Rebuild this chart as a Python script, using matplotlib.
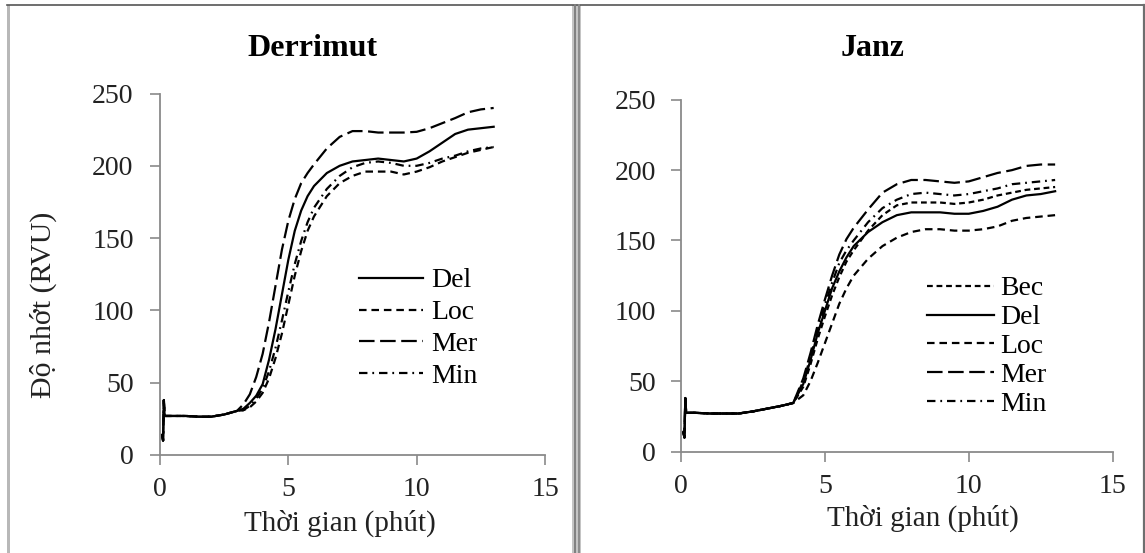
import matplotlib

matplotlib.use("Agg")
import matplotlib.pyplot as plt  # noqa: E402
from matplotlib.lines import Line2D  # noqa: E402
from matplotlib.patches import Rectangle  # noqa: E402

plt.rcParams["font.family"] = ["Liberation Serif", "DejaVu Serif"]

W, H = 1145, 553

# ---- data ----
start_t = [0.08, 0.12, 0.15, 0.18, 0.5, 1, 1.5, 2, 2.5, 3]
t_grid = start_t + [3.25, 3.5, 3.75, 4, 4.25, 4.5, 4.75, 5, 5.25, 5.5, 5.75, 6,
                    6.5, 7, 7.5, 8, 8.5, 9, 9.5, 10, 10.5, 11, 11.5, 12, 12.5, 13]

d_start = [14, 10, 38, 27, 27, 27, 26.5, 26.5, 28, 30.5]
derrimut_del = d_start + [32, 36, 41, 49, 66, 87, 111, 135, 155, 169, 179, 186,
                          195, 200, 203, 204, 205, 204, 203, 205, 210, 216, 222, 225, 226, 227]
derrimut_loc = d_start + [31, 33, 37, 43, 53, 67, 84, 104, 124, 141, 155, 165,
                          179, 188, 193, 196, 196, 196, 194, 196, 199, 203, 206, 209, 211, 213]
derrimut_mer = d_start + [35, 42, 54, 70, 92, 117, 142, 162, 177, 188, 195, 201,
                          212, 220, 224, 224, 223, 223, 223, 223.5, 226, 229.5, 233, 237, 239, 240]
derrimut_min = d_start + [31, 34, 39, 46, 58, 74, 93, 113, 132, 148, 161, 171,
                          184, 193, 199, 202, 203, 202, 200, 200, 202, 205, 207, 210, 212, 213]

t_janz = [0.08, 0.12, 0.15, 0.18, 0.5, 1, 1.5, 2, 2.5, 3, 3.5, 3.9,
          4.25, 4.5, 4.75, 5, 5.25, 5.5, 5.75, 6, 6.5, 7, 7.5, 8, 8.5, 9,
          9.5, 10, 10.5, 11, 11.5, 12, 12.5, 13]
j_start = [14, 10, 38, 27.5, 27.5, 27, 27, 27, 28.5, 30.5, 32.5, 34.5]
janz_bec = j_start + [46, 62, 80, 96, 111, 124, 135, 143, 157, 168, 175, 177, 177, 177,
                      176, 177, 179, 182, 184, 186, 187, 188]
janz_del = j_start + [48, 65, 84, 100, 116, 128, 138, 146, 156, 163, 168, 170, 170, 170,
                      169, 169, 171, 174, 179, 182, 183, 185]
janz_loc = j_start + [40, 50, 63, 77, 91, 105, 116, 125, 137, 146, 152, 156, 158, 158,
                      157, 157, 158, 160, 164, 166, 167, 168]
janz_mer = j_start + [52, 70, 90, 108, 125, 140, 151, 159, 172, 184, 190, 193, 193, 192,
                      191, 192, 195, 198, 200, 203, 204, 204]
janz_min = j_start + [50, 67, 86, 104, 120, 134, 143, 150, 163, 173, 179, 183, 184, 183,
                      182, 183, 185, 187, 190, 191, 192, 193]

styles = {
    "Bec": (0, (2.6, 1.7)),
    "Del": "-",
    "Loc": (0, (3.4, 2.2)),
    "Mer": (0, (7, 2.5)),
    "Min": (0, (3.8, 2.2, 0.8, 2.2)),
}

x_ticks = [0, 5, 10, 15]
y_ticks = [0, 50, 100, 150, 200, 250]
x_label = "Thời gian (phút)"
y_label = "Độ nhớt (RVU)"

AXIS_GREY = "#8a8a8a"


def fx(px):
    return px / W


def fy(py):
    return 1 - py / H


def style_axes(ax, pad_y):
    for side in ("top", "right"):
        ax.spines[side].set_visible(False)
    for side in ("left", "bottom"):
        ax.spines[side].set_color(AXIS_GREY)
        ax.spines[side].set_linewidth(1.3)
    ax.set_xlim(0, 15)
    ax.set_ylim(0, 250)
    ax.set_xticks(x_ticks)
    ax.set_yticks(y_ticks)
    ax.tick_params(axis="both", direction="out", length=7, width=1.2,
                   color=AXIS_GREY, labelsize=20, labelcolor="#222222")
    ax.tick_params(axis="y", pad=pad_y)
    ax.tick_params(axis="x", pad=9)


def draw_series(ax, t, series):
    for name, vals in series:
        ax.plot(t, vals, color="black", lw=1.6, linestyle=styles[name], label=name)


fig = plt.figure(figsize=(W / 100, H / 100), dpi=100)

# left panel
ax1 = fig.add_axes([fx(160), fy(455), fx(545) - fx(160), fy(93.5) - fy(455)])
draw_series(ax1, t_grid, [("Del", derrimut_del), ("Loc", derrimut_loc),
                          ("Mer", derrimut_mer), ("Min", derrimut_min)])
style_axes(ax1, 12)
ax1.legend(loc="upper left", bbox_to_anchor=(fx(359), fy(268)), bbox_transform=fig.transFigure,
           frameon=False, fontsize=20, handlelength=2.3, handletextpad=0.3,
           labelspacing=0.23, borderaxespad=0, borderpad=0)

# right panel
ax2 = fig.add_axes([fx(681), fy(451.5), fx(1112.7) - fx(681), fy(99.8) - fy(451.5)])
draw_series(ax2, t_janz, [("Bec", janz_bec), ("Del", janz_del), ("Loc", janz_loc),
                          ("Mer", janz_mer), ("Min", janz_min)])
style_axes(ax2, 11)
ax2.legend(loc="upper left", bbox_to_anchor=(fx(927), fy(276)), bbox_transform=fig.transFigure,
           frameon=False, fontsize=20, handlelength=2.4, handletextpad=0.25,
           labelspacing=0.12, borderaxespad=0, borderpad=0)

# titles and axis labels
fig.text(fx(313), fy(56.5), "Derrimut", ha="center", va="baseline",
         fontsize=23, fontweight="bold")
fig.text(fx(872), fy(55.5), "Janz", ha="center", va="baseline",
         fontsize=23, fontweight="bold")
fig.text(fx(340), fy(531), x_label, ha="center", va="baseline", fontsize=21, color="#222222")
fig.text(fx(923), fy(525.5), x_label, ha="center", va="baseline", fontsize=21, color="#222222")
fig.text(fx(43), fy(305), y_label, ha="center", va="center", rotation=90,
         fontsize=21.5, color="#222222")

# panel frames
fig.add_artist(Line2D([fx(7), fx(1144)], [fy(4.8), fy(4.8)], color="#555555", lw=1.2))
fig.add_artist(Rectangle((fx(6.5), 0), fx(3.5), fy(4.8), color="#b8b8b8", lw=0))
fig.add_artist(Rectangle((fx(572), 0), fx(9), fy(4.8), color="#c4c4c4", lw=0))
fig.add_artist(Line2D([fx(574.5), fx(574.5)], [0, fy(4.8)], color="#808080", lw=1.4))
fig.add_artist(Line2D([fx(578.8), fx(578.8)], [0, fy(4.8)], color="#8c8c8c", lw=1.4))
fig.add_artist(Line2D([fx(1143.5), fx(1143.5)], [0, fy(4.8)], color="#6e6e6e", lw=1.6))

fig.savefig("out.png", dpi=100)
